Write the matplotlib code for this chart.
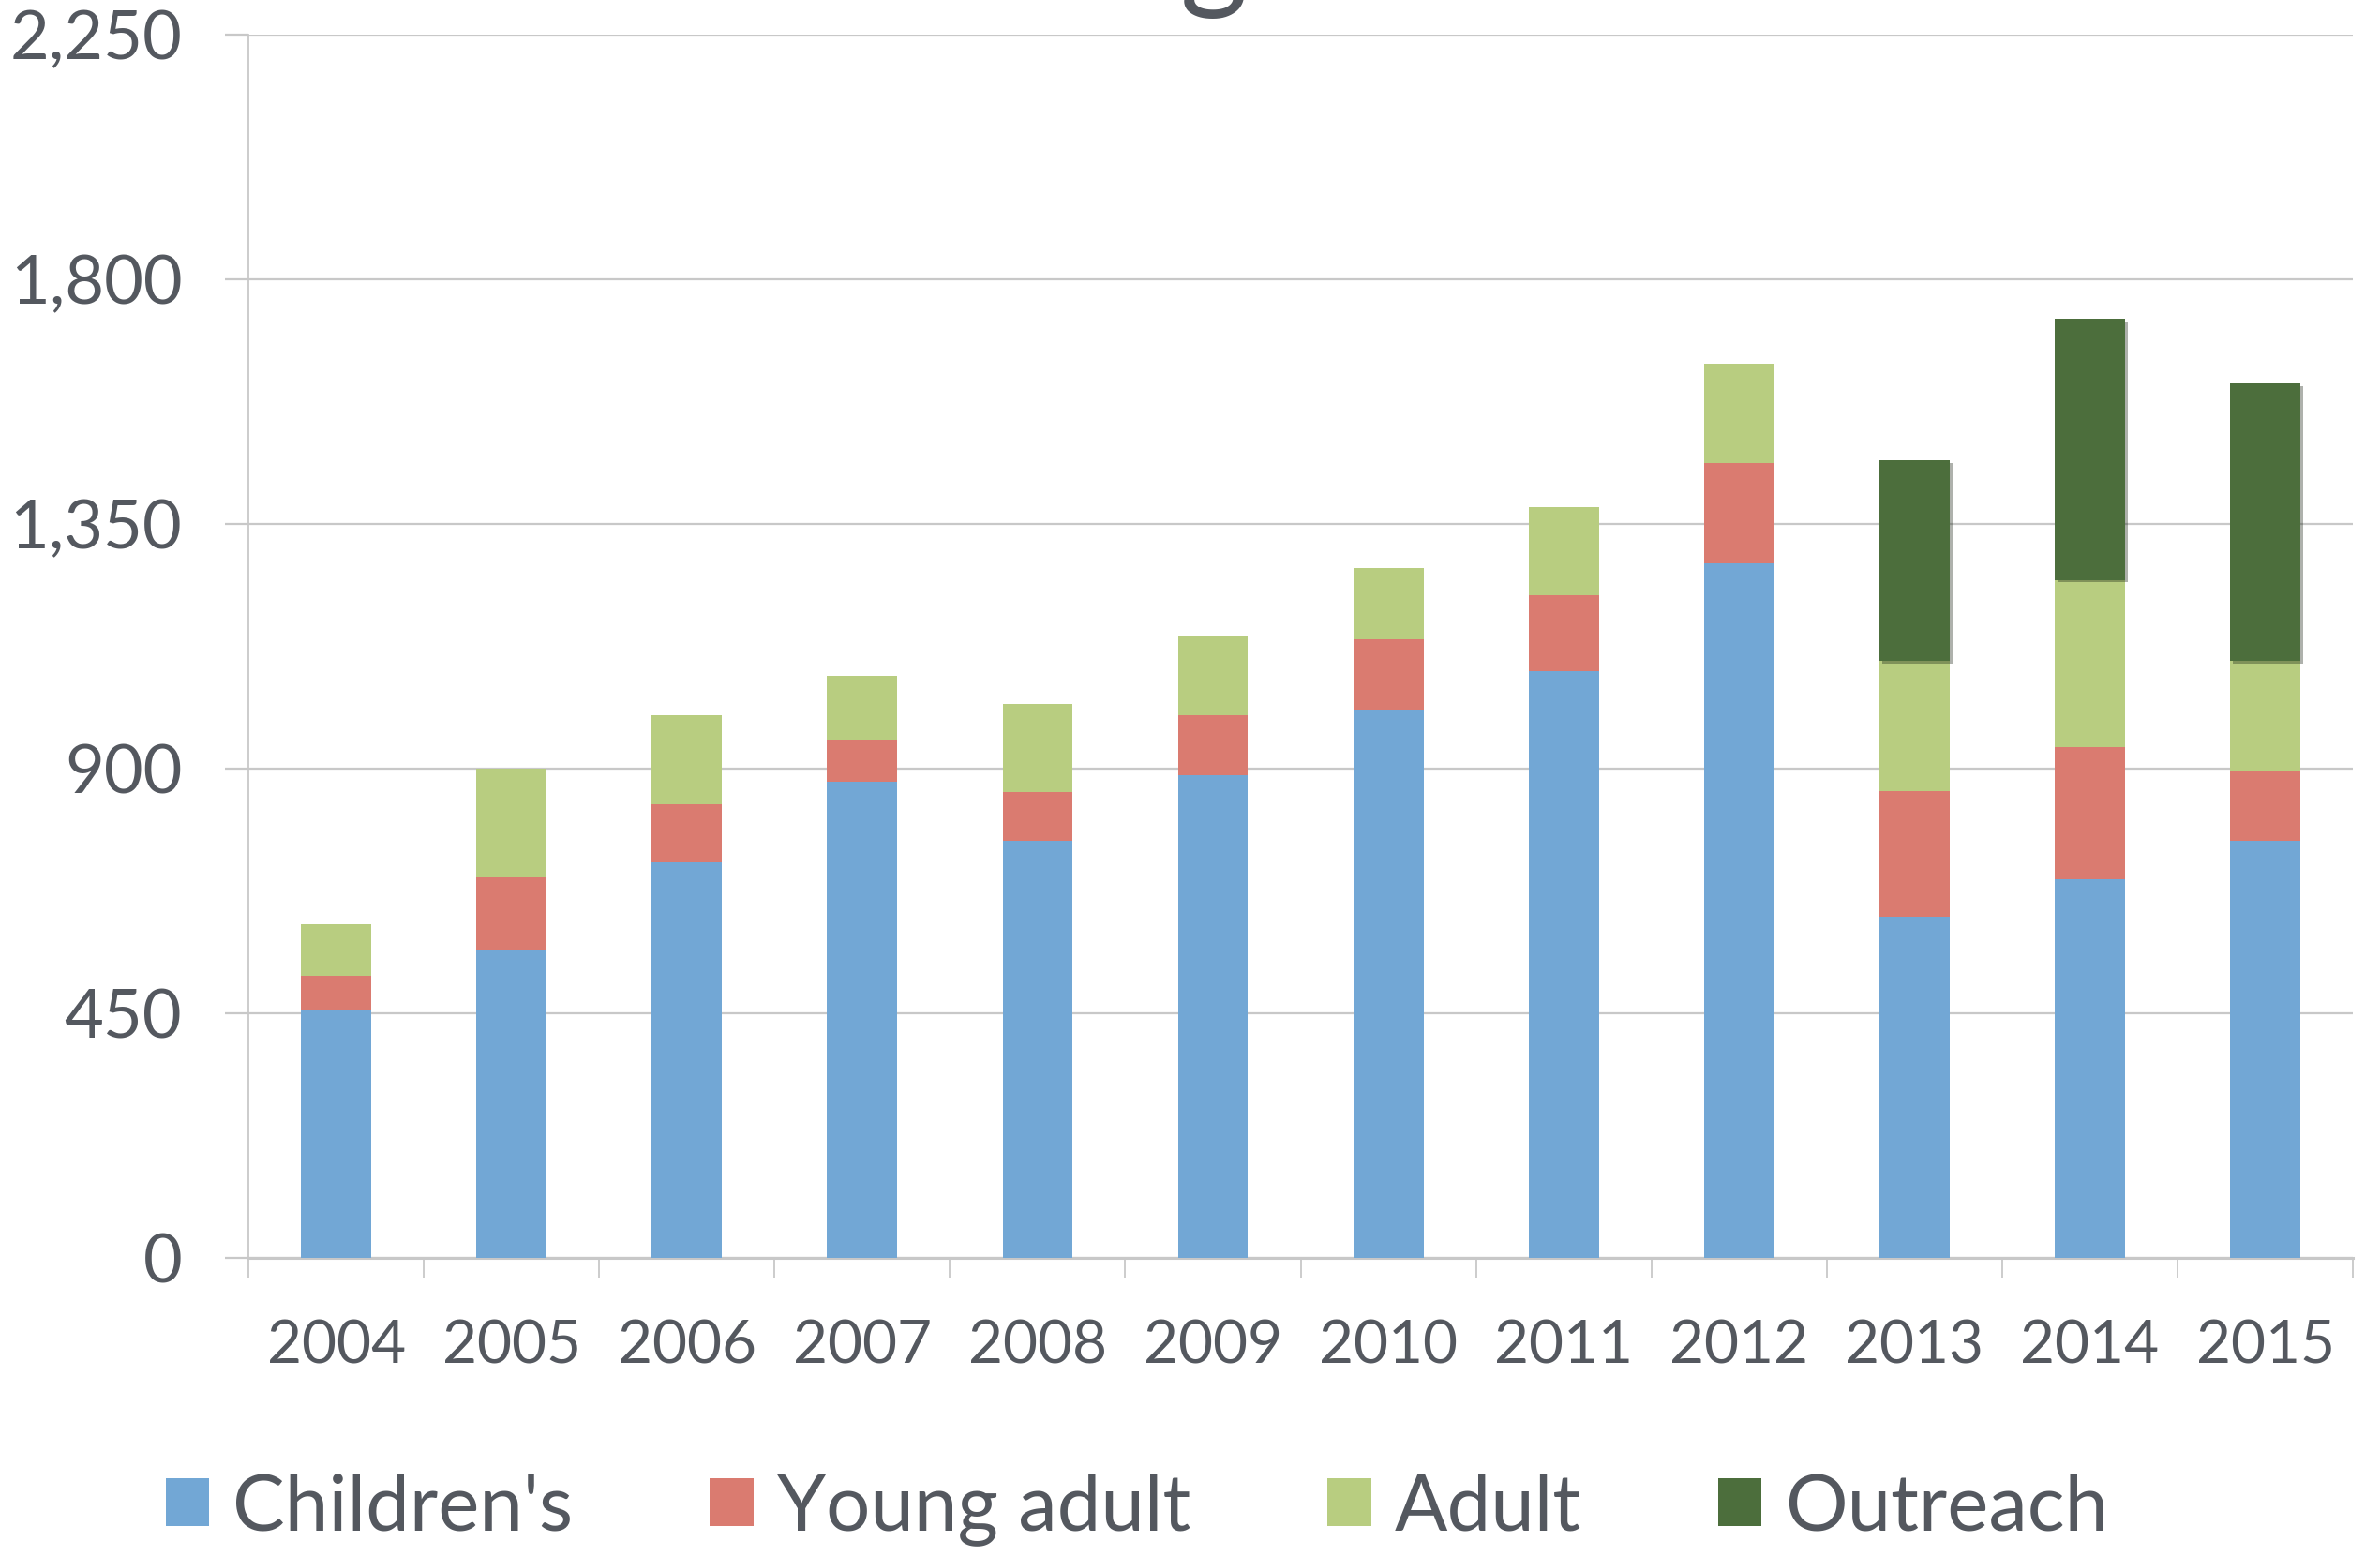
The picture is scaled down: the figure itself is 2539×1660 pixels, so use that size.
import numpy as np
import matplotlib
matplotlib.use('Agg')
import matplotlib.pyplot as plt
from matplotlib import patheffects as pe

plt.rcParams['font.family'] = ['Lato', 'DejaVu Sans']

years = ['2004', '2005', '2006', '2007', '2008', '2009', '2010', '2011', '2012', '2013', '2014', '2015']
childrens = [455, 566, 728, 875, 767, 887, 1009, 1079, 1277, 627, 697, 767]
young_adult = [63, 134, 106, 78, 89, 111, 128, 139, 184, 232, 243, 128]
adult = [95, 200, 164, 118, 162, 145, 131, 162, 184, 239, 307, 203]
outreach = [0, 0, 0, 0, 0, 0, 0, 0, 0, 369, 480, 510]
yticks = [0, 450, 900, 1350, 1800, 2250]

txt = '#54585f'
grid = '#c8c8c8'

fig = plt.figure(figsize=(25.39, 16.60), dpi=100)
ax = fig.add_axes([0.1044, 0.1916, 0.8842, 0.7863])

x = np.arange(len(years))
w = 0.4
b1 = np.array(childrens)
b2 = b1 + np.array(young_adult)
b3 = b2 + np.array(adult)

ax.bar(x, childrens, w, color='#72a7d5', label="Children's", zorder=3)
ax.bar(x, young_adult, w, bottom=b1, color='#da7b70', label='Young adult', zorder=3)
ax.bar(x, adult, w, bottom=b2, color='#b8cd80', label='Adult', zorder=3)
out = ax.bar(x, outreach, w, bottom=b3, color='#4c6e3c', label='Outreach', zorder=3)
for p in out:
    if p.get_height() > 0:
        p.set_path_effects([pe.SimplePatchShadow(offset=(2, -2), alpha=0.35), pe.Normal()])

ax.set_xlim(-0.5, len(years) - 0.5)
ax.set_ylim(0, 2250)
ax.set_yticks(yticks)
ax.set_yticklabels(['{:,}'.format(v) for v in yticks])
ax.set_xticks(x)
ax.set_xticklabels(years)
ax.set_xticks(np.arange(-0.5, len(years)), minor=True)

ax.yaxis.grid(True, color=grid, linewidth=1.6, zorder=0)
ax.tick_params(axis='y', length=18, width=1.6, color=grid, pad=33, labelsize=52, labelcolor=txt)
ax.tick_params(axis='x', which='major', length=0, pad=47, labelsize=46, labelcolor=txt)
ax.tick_params(axis='x', which='minor', length=15, width=1.3, color=grid)

for s in ['top', 'right']:
    ax.spines[s].set_visible(False)
ax.spines['left'].set_color(grid)
ax.spines['left'].set_linewidth(1.3)
ax.spines['bottom'].set_color(grid)
ax.spines['bottom'].set_linewidth(2.2)

# title mostly cut off at the top of the image
fig.text(1295 / 2539, 1 - 20 / 1660, 'g', ha='center', va='bottom', fontsize=100, color=txt)

fig.legend(loc='center', bbox_to_anchor=(1213 / 2539, 1 - 1610 / 1660), ncol=4, frameon=False,
           fontsize=60, labelcolor=txt, handlelength=0.56, handleheight=0.56,
           handletextpad=0.3, columnspacing=1.75)

fig.savefig('out.png', dpi=100)
